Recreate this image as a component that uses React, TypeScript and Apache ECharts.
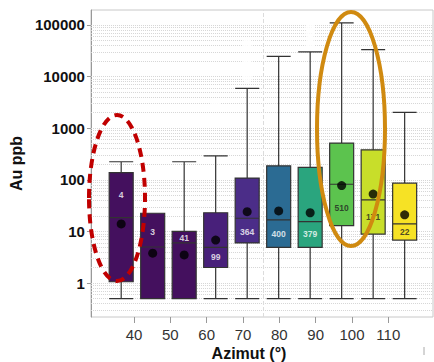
import React, { useEffect, useRef } from "react";
import * as echarts from "echarts";

// Box positions (index along the azimuth classes) and their statistics
const boxIndex = [0, 1, 2, 3, 4, 5, 6, 7, 8, 9];
const whiskerLow = [0.5, 0.5, 0.5, 0.5, 0.5, 0.5, 0.5, 0.5, 0.5, 0.5];
const q1 = [1.06, 0.5, 0.5, 2, 6, 4.9, 4.9, 13, 8.9, 6.8];
const median = [18.5, 5, 6, 4.9, 18, 16.7, 15.5, 82, 41, 14];
const q3 = [138, 22.5, 10, 23, 108, 187, 174, 515, 382, 86];
const whiskerHigh = [224, 22.5, 224, 292, 5900, 24700, 30000, 110000, 33400, 2030];
const means = [14, 3.8, 3.5, 6.8, 24.2, 25, 23, 77.5, 53, 21];
const boxColors = [
  "#44105e", "#44105e", "#44105e", "#48207a", "#4b2d88",
  "#2b6b93", "#2aa57e", "#5cc34e", "#c8de2a", "#f6e225",
];

// Outliers: [box index, value]
const outlierIndex = [3, 4, 4, 4, 6, 6, 6];
const outlierValue = [2860, 9570, 21900, 44300, 43000, 70000, 88000];
const outlierColor = ["#5c53a5", "#5c53a5", "#5c53a5", "#5c53a5", "#3cb89a", "#3cb89a", "#3cb89a"];

// Count labels inside the boxes
const countLabels = ["4", "3", "41", "99", "364", "400", "379", "510", "171", "22"];
const countLabelY = [51, 9.8, 7.6, 3.2, 9.9, 8.9, 8.9, 29, 18.9, 9.6];
const countLabelColor = ["#fff", "#fff", "#fff", "#fff", "#fff", "#fff", "#fff", "#222", "#222", "#222"];

// Azimuth tick labels
const azimutTicks = ["40", "50", "60", "70", "80", "90", "100", "110"];

const FONT = "'Liberation Sans', Arial, sans-serif";

export default function App() {
  const ref = useRef<HTMLDivElement>(null);

  useEffect(() => {
    document.body.style.margin = "0";
    if (!ref.current) return;
    const chart = echarts.init(ref.current, null, { renderer: "svg" });

    // light dotted gridlines at 1..9 x each decade
    const gridValues: number[] = [];
    for (let e = -1; e <= 5; e++) {
      for (let m = 1; m <= 9; m++) {
        const v = m * Math.pow(10, e);
        if (v > 0.22 && v < 195000) gridValues.push(v);
      }
    }

    const isPow10 = (v: number) => {
      const l = Math.log10(v);
      return Math.abs(l - Math.round(l)) < 1e-6 && v >= 1;
    };

    const option: any = {
      animation: false,
      grid: [
        {
          left: 88, right: 1, top: 10, bottom: 45,
          show: true, borderColor: "#c8c8c8", borderWidth: 1, backgroundColor: "#fff",
        },
        { left: 134, right: 45.7, top: 10, bottom: 45, show: false },
      ],
      xAxis: [
        { type: "value", gridIndex: 0, min: -0.96, max: 9.9, show: false },
        {
          type: "category", gridIndex: 1, data: azimutTicks, boundaryGap: false,
          axisLine: { show: false },
          axisTick: { show: true, length: 6, lineStyle: { color: "#999" } },
          axisLabel: { fontSize: 15, color: "#333", margin: 10, fontFamily: FONT },
          splitLine: { show: false },
        },
      ],
      yAxis: [
        {
          type: "log", gridIndex: 0, logBase: 10, min: 0.22, max: 195000,
          axisLine: { show: true, onZero: false, lineStyle: { color: "#999" } },
          axisTick: { show: true, length: 4, lineStyle: { color: "#999" } },
          axisLabel: {
            fontSize: 15, fontWeight: "bold", color: "#111", margin: 6, fontFamily: FONT,
            showMinLabel: false, showMaxLabel: false,
            formatter: (v: number) => (isPow10(v) ? String(Math.round(v)) : ""),
          },
          splitLine: { show: false },
          name: "Au ppb", nameLocation: "middle", nameGap: 61,
          nameTextStyle: { fontSize: 16, fontWeight: "bold", color: "#111", fontFamily: FONT },
        },
        { type: "value", gridIndex: 1, show: false },
      ],
      series: [
        {
          type: "scatter", xAxisIndex: 0, yAxisIndex: 0, data: [], silent: true,
          markLine: {
            silent: true, symbol: "none", z: 1, animation: false,
            label: { show: false },
            lineStyle: { type: "dotted", color: "#d6d6d6", width: 1 },
            data: [
              ...gridValues.map((v) => ({ yAxis: v })),
              { xAxis: 4.5, lineStyle: { type: "dashed", color: "#dcdcdc", width: 1 } },
            ],
          },
        },
        {
          type: "boxplot", xAxisIndex: 0, yAxisIndex: 0, z: 3,
          boxWidth: [24, 24],
          itemStyle: { borderColor: "#333", borderWidth: 1.2 },
          emphasis: { disabled: true },
          data: boxIndex.map((i) => ({
            value: [i, whiskerLow[i], q1[i], median[i], q3[i], whiskerHigh[i]],
            itemStyle: { color: boxColors[i], borderColor: "#333" },
          })),
        },
        {
          type: "scatter", xAxisIndex: 0, yAxisIndex: 0, z: 4,
          symbol: "circle", symbolSize: 9,
          itemStyle: { color: "#000" },
          data: boxIndex.map((i) => [i, means[i]]),
        },
        {
          type: "scatter", xAxisIndex: 0, yAxisIndex: 0, z: 4,
          symbol: "emptyCircle", symbolSize: 8,
          data: outlierValue.map((v, k) => ({
            value: [outlierIndex[k], v],
            itemStyle: { color: "#fff", borderColor: outlierColor[k], borderWidth: 1.3 },
          })),
        },
        {
          type: "scatter", xAxisIndex: 0, yAxisIndex: 0, z: 5,
          symbol: "circle", symbolSize: 1,
          itemStyle: { color: "rgba(0,0,0,0)" },
          label: {
            show: true, position: "inside", fontSize: 8.5, fontWeight: "bold", fontFamily: FONT,
            formatter: (p: any) => countLabels[p.dataIndex],
          },
          data: boxIndex.map((i) => ({
            value: [i, countLabelY[i]],
            label: { color: countLabelColor[i] },
          })),
        },
      ],
      graphic: [
        {
          type: "ellipse", z: 100,
          shape: { cx: 117, cy: 198, rx: 28, ry: 83 },
          style: { fill: "none", stroke: "#c00000", lineWidth: 4, lineDash: [9, 6] },
        },
        {
          type: "ellipse", z: 100,
          shape: { cx: 351, cy: 129, rx: 34, ry: 117 },
          style: { fill: "none", stroke: "#d08a10", lineWidth: 4 },
        },
        {
          type: "text", x: 249, y: 353, z: 100,
          style: {
            text: "Azimut (°)", fontSize: 16, fontWeight: "bold", fill: "#111",
            fontFamily: FONT, textAlign: "center", textVerticalAlign: "middle",
          },
        },
        {
          type: "line", z: 100,
          shape: { x1: 424, y1: 347, x2: 424, y2: 355 },
          style: { stroke: "#aaa", lineWidth: 1 },
        },
      ],
    };

    chart.setOption(option);
    return () => chart.dispose();
  }, []);

  return <div ref={ref} style={{ width: 434, height: 362 }} />;
}
